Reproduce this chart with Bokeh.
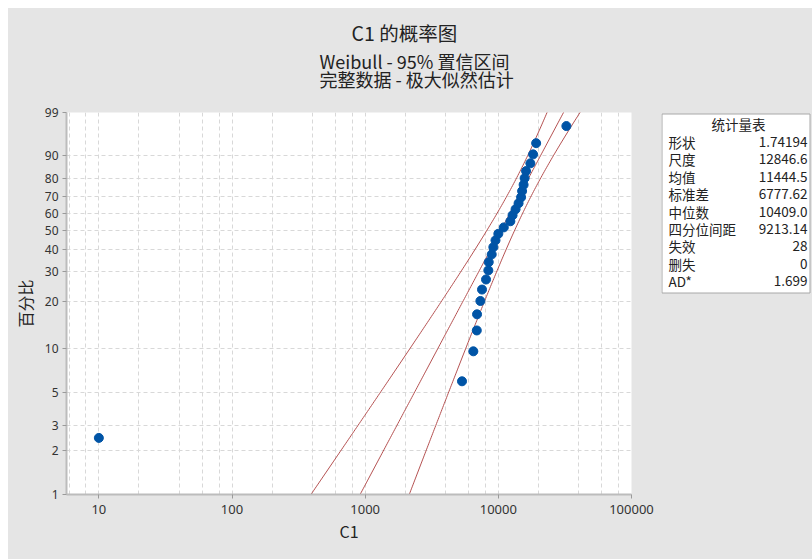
import numpy as np
from bokeh.plotting import figure
from bokeh.models import Range1d, FixedTicker, NumeralTickFormatter, ColumnDataSource, Title
from bokeh.layouts import row
from bokeh.embed import file_html
from bokeh.resources import INLINE
from bokeh.core.properties import value

# ---------------- data ----------------
c1_values = [10, 5335, 6490, 6890, 6920, 7330, 7540, 8080, 8410, 8470, 8920, 9170, 9520,
             10000, 10990, 12310, 12790, 13470, 14190, 14820, 15080, 15480, 15750, 16150,
             17400, 18240, 19230, 32430]
percent_values = [2.46, 5.99, 9.51, 13.03, 16.55, 20.07, 23.59, 27.11, 30.63, 34.15, 37.68,
                  41.20, 44.72, 48.24, 51.76, 55.28, 58.80, 62.32, 65.85, 69.37, 72.89,
                  76.41, 79.93, 83.45, 86.97, 90.49, 94.01, 97.54]
y_tick_percents = [1, 2, 3, 5, 10, 20, 30, 40, 50, 60, 70, 80, 90, 99]
x_tick_values = [10, 100, 1000, 10000, 100000]
weibull_shape = 1.74194
weibull_scale = 12846.6
# variance terms of log-percentile used for the 95% band
ci_var_logscale = 0.01216
ci_cov2 = -0.00512
ci_var_invshape = 0.0072
ci_z = 1.96

title_text = "C1 的概率图"
subtitle_text = "Weibull - 95% 置信区间\n完整数据 - 极大似然估计"
table_header = "统计量表"
stat_names = ["形状", "尺度", "均值", "标准差", "中位数", "四分位间距", "失效", "删失", "AD*"]
stat_values = ["1.74194", "12846.6", "11444.5", "6777.62", "10409.0", "9213.14", "28", "0", "1.699"]

BG = "#e5e5e5"
FONT = "Noto Sans CJK SC"
TXT = "#222222"


def wb(pct):
    return np.log(-np.log(1.0 - np.asarray(pct, dtype=float) / 100.0))


y_ticks = [round(float(v), 9) for v in wb(y_tick_percents)]
y_lo = y_ticks[0]
y_hi = y_ticks[-1]

p = figure(width=653, height=551, x_axis_type="log",
           x_range=Range1d(10 ** 0.757, 1e5), y_range=Range1d(y_lo, y_hi),
           output_backend="svg", toolbar_location=None,
           min_border_left=58, min_border_right=30, min_border_top=104, min_border_bottom=65)
p.background_fill_color = "white"
p.border_fill_color = BG
p.outline_line_color = None

# titles (first added sits nearest the frame); a tiny blank title acts as spacer
p.add_layout(Title(text=" ", align="left", text_font=FONT, text_font_size="1px",
                   text_color=BG, standoff=17), "above")
p.add_layout(Title(text=subtitle_text, align="left", offset=253, text_font=FONT,
                   text_font_size="18px", text_font_style="normal", text_color=TXT,
                   standoff=0, text_line_height=0.694), "above")
p.add_layout(Title(text=title_text, align="left", offset=285, text_font=FONT,
                   text_font_size="19.5px", text_font_style="normal", text_color=TXT,
                   standoff=0), "above")

# grids
grid_x = []
for k in range(0, 6):
    for m in [2, 4, 6, 8, 10]:
        grid_x.append(m * 10 ** k)
p.xgrid.ticker = FixedTicker(ticks=grid_x)
p.ygrid.ticker = FixedTicker(ticks=y_ticks)
for g in (p.xgrid, p.ygrid):
    g.grid_line_color = "#d8d8d8"
    g.grid_line_dash = "4 3"
    g.grid_line_width = 1

# axes
p.xaxis.ticker = FixedTicker(ticks=x_tick_values)
p.xaxis.formatter = NumeralTickFormatter(format="0")
p.yaxis.ticker = FixedTicker(ticks=y_ticks)
p.yaxis.major_label_overrides = {t: str(v) for t, v in zip(y_ticks, y_tick_percents)}
for ax in (p.xaxis, p.yaxis):
    ax.axis_line_color = "#bcbcbc"
    ax.axis_line_width = 2
    ax.major_tick_line_color = "#9a9a9a"
    ax.major_tick_out = 4
    ax.major_tick_in = 0
    ax.minor_tick_out = 0
    ax.minor_tick_in = 0
    ax.major_label_text_font = "Noto Sans"
    ax.major_label_text_color = "#333333"
    ax.axis_label_text_font = FONT
    ax.axis_label_text_font_style = "normal"
    ax.axis_label_text_color = TXT
    ax.axis_label_text_font_size = "16px"
p.xaxis.major_label_text_font_size = "13px"
p.yaxis.major_label_text_font_size = "12px"
p.xaxis.axis_label = "C1"
p.yaxis.axis_label = "百分比"
p.xaxis.major_label_standoff = 6
p.xaxis.axis_label_standoff = 2
p.yaxis.major_label_standoff = 4
p.yaxis.axis_label_standoff = 5

# fitted line and 95% bounds
w = np.linspace(y_lo - 0.1, y_hi + 0.1, 200)
x_fit = weibull_scale * np.exp(w / weibull_shape)
half = ci_z * np.sqrt(ci_var_logscale + ci_cov2 * w + ci_var_invshape * w ** 2)
line_color = "#b45050"
p.line(x_fit, w, line_color=line_color, line_width=1)
p.line(x_fit * np.exp(-half), w, line_color=line_color, line_width=1)
p.line(x_fit * np.exp(half), w, line_color=line_color, line_width=1)

# points
src = ColumnDataSource(dict(x=c1_values, y=wb(percent_values)))
p.scatter("x", "y", source=src, size=9, fill_color="#0054a6", line_color="#0054a6")

# ---------------- stats table (second panel, frame aligned with the plot) ----------------
p2 = figure(width=151, height=551, x_range=Range1d(0, 151), y_range=Range1d(382, 0),
            output_backend="svg", toolbar_location=None,
            x_axis_location=None, y_axis_location=None,
            min_border_left=0, min_border_right=0, min_border_top=104, min_border_bottom=65)
p2.grid.visible = False
p2.background_fill_color = BG
p2.border_fill_color = BG
p2.outline_line_color = None

p2.quad(left=[0.5], right=[148.5], top=[1.5], bottom=[180.5], fill_color="white",
        line_color="#a8a8a8", line_width=1)
row_y = [29.5 + 17.4 * i for i in range(len(stat_names))]
tsrc = ColumnDataSource(dict(name=stat_names, val=stat_values, y=row_y,
                             xl=[7] * len(stat_names), xr=[146] * len(stat_names)))
p2.text(x=[77], y=[11], text=[table_header], text_font=value(FONT), text_font_size="13.5px",
        text_align="center", text_baseline="middle", text_color=TXT)
p2.text(x="xl", y="y", text="name", source=tsrc, text_font=value(FONT),
        text_font_size="13.5px", text_align="left", text_baseline="middle", text_color=TXT)
p2.text(x="xr", y="y", text="val", source=tsrc, text_font=value(FONT),
        text_font_size="13.5px", text_align="right", text_baseline="middle", text_color=TXT)

layout = row(p, p2, spacing=0)
layout.margin = (8, 0, 0, 8)
layout.styles = {"background-color": BG}
open("out.html", "w").write(file_html(layout, INLINE))
